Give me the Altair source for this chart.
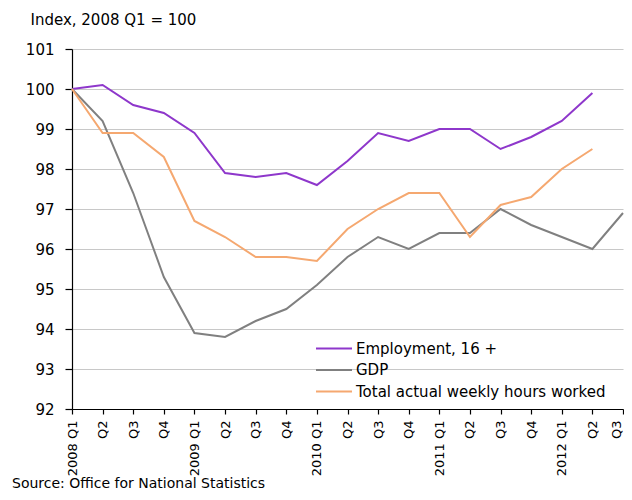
import altair as alt
import pandas as pd

quarters = ["2008 Q1", "2008 Q2", "2008 Q3", "2008 Q4",
            "2009 Q1", "2009 Q2", "2009 Q3", "2009 Q4",
            "2010 Q1", "2010 Q2", "2010 Q3", "2010 Q4",
            "2011 Q1", "2011 Q2", "2011 Q3", "2011 Q4",
            "2012 Q1", "2012 Q2", "2012 Q3"]

employment = [100.0, 100.1, 99.6, 99.4, 98.9, 97.9, 97.8, 97.9, 97.6, 98.2,
              98.9, 98.7, 99.0, 99.0, 98.5, 98.8, 99.2, 99.9]
gdp = [100.0, 99.2, 97.4, 95.3, 93.9, 93.8, 94.2, 94.5, 95.1, 95.8,
       96.3, 96.0, 96.4, 96.4, 97.0, 96.6, 96.3, 96.0, 96.9]
hours = [100.0, 98.9, 98.9, 98.3, 96.7, 96.3, 95.8, 95.8, 95.7, 96.5,
         97.0, 97.4, 97.4, 96.3, 97.1, 97.3, 98.0, 98.5]

series_names = ["Employment, 16 +", "GDP", "Total actual weekly hours worked"]
series_colors = ["#8E37CB", "#808080", "#F5A870"]

y_ticks = list(range(92, 102))

rows = []
for name, vals in zip(series_names, [employment, gdp, hours]):
    for q, v in zip(quarters, vals):
        rows.append({"quarter": q, "value": v, "series": name})
df = pd.DataFrame(rows)

FONT = "DejaVu Sans"

label_expr = "indexof(datum.label, 'Q1') >= 0 ? datum.label : slice(datum.label, 5)"
last_q = quarters[-1]

lines = alt.Chart(df).mark_line(strokeWidth=2).encode(
    x=alt.X("quarter:O", sort=quarters,
            scale=alt.Scale(padding=0),
            axis=alt.Axis(title=None, labelAngle=270, labelExpr=label_expr,
                          labelFont=FONT, labelFontSize=13, labelColor="#000000",
                          labelOffset={"condition": {"test": f"datum.value === '{last_q}'",
                                                     "value": -7}, "value": 0},
                          domainColor="#000000", tickColor="#000000",
                          tickSize=5, labelPadding=6, grid=False,
                          domainWidth=1.2, tickWidth=1.2)),
    y=alt.Y("value:Q", scale=alt.Scale(domain=[92, 101], nice=False, zero=False),
            axis=alt.Axis(values=y_ticks, title="Index, 2008 Q1 = 100",
                          titleAngle=0, titleAlign="left", titleBaseline="alphabetic",
                          titleX=-42, titleY=-25, titleFont=FONT, titleFontSize=15,
                          titleFontWeight="normal", titleColor="#000000",
                          labelFont=FONT, labelFontSize=15, labelColor="#000000",
                          labelPadding=11, tickSize=7, tickColor="#000000",
                          domainColor="#000000", domainWidth=1.2, tickWidth=1.2,
                          gridColor="#C8C8C8", gridWidth=1.2)),
    color=alt.Color("series:N",
                    scale=alt.Scale(domain=series_names, range=series_colors),
                    legend=alt.Legend(title=None, orient="none", legendX=243, legendY=289.5,
                                      symbolType="stroke", symbolSize=1296,
                                      symbolStrokeWidth=2, clipHeight=20,
                                      rowPadding=1.5, labelOffset=3,
                                      labelFont=FONT, labelFontSize=15,
                                      labelColor="#000000", labelLimit=400)),
)

source = alt.Chart(pd.DataFrame({"t": ["Source: Office for National Statistics"]})).mark_text(
    align="left", baseline="bottom", font=FONT, fontSize=14, color="#000000"
).encode(x=alt.value(-60), y=alt.value(442), text="t:N")

chart = alt.layer(lines, source).properties(
    width=551, height=360,
    autosize=alt.AutoSizeParams(type="none"),
    padding={"left": 64, "top": 41, "right": 1, "bottom": 83},
).configure_view(stroke=None)

chart.save("out.html", embed_options={"renderer": "svg", "actions": False})
